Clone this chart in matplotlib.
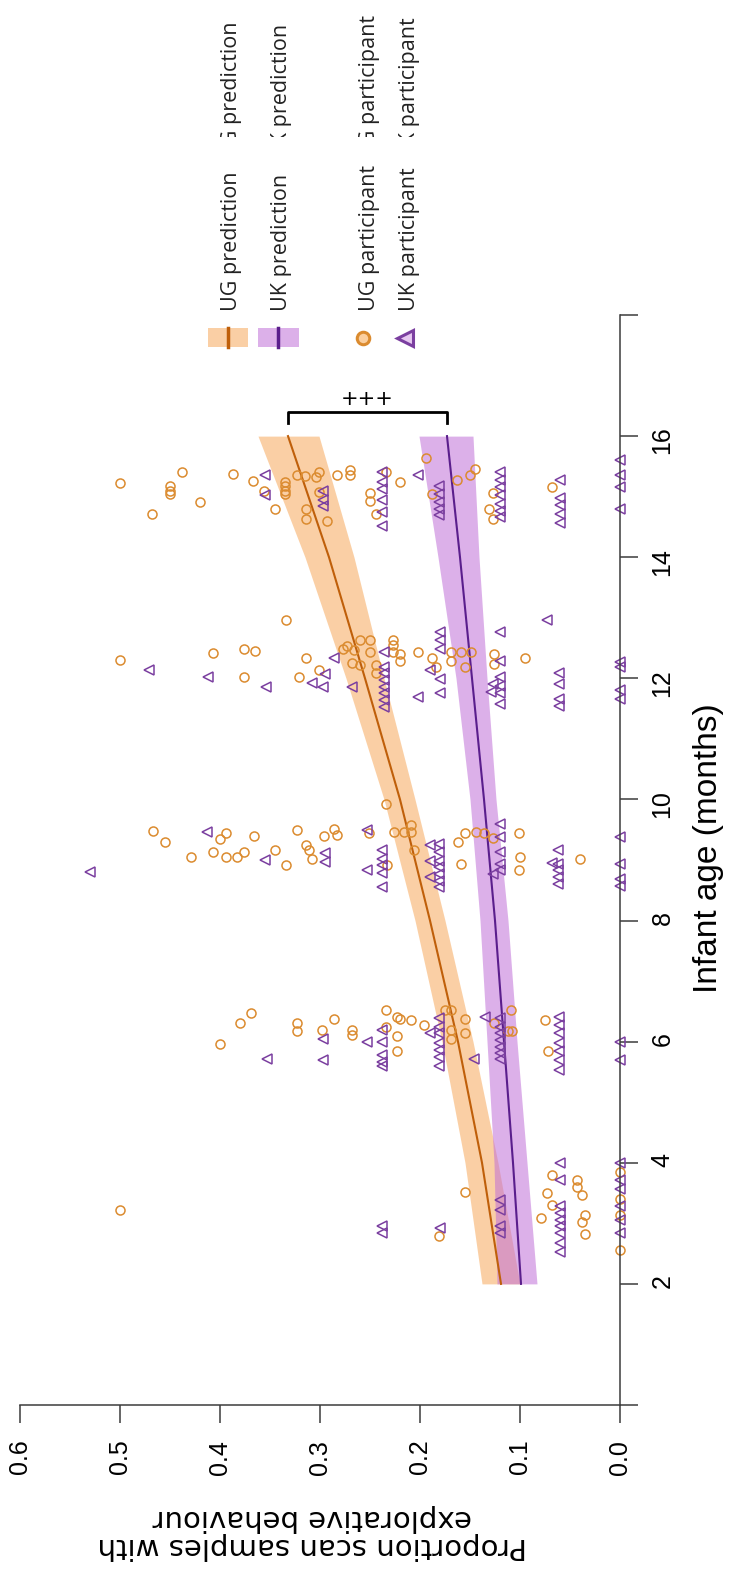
import numpy as np
import matplotlib
matplotlib.use("Agg")
import matplotlib.pyplot as plt
from matplotlib import font_manager
from matplotlib.patches import Rectangle
from matplotlib.lines import Line2D
from matplotlib.transforms import Bbox, TransformedBbox

# figure is drawn already turned a quarter turn: age runs up, proportion runs left
W, H = 731, 1569

# model predictions (age in months -> proportion)
pred_age = [2, 4, 6, 8, 10, 12, 14, 16]
ug_pred = [0.119, 0.138, 0.162, 0.190, 0.220, 0.255, 0.291, 0.332]
ug_lo = [0.100, 0.122, 0.147, 0.175, 0.205, 0.236, 0.266, 0.301]
ug_hi = [0.138, 0.155, 0.178, 0.205, 0.236, 0.274, 0.315, 0.362]
uk_pred = [0.099, 0.107, 0.116, 0.125, 0.136, 0.148, 0.160, 0.173]
uk_lo = [0.083, 0.093, 0.103, 0.112, 0.124, 0.133, 0.141, 0.147]
uk_hi = [0.123, 0.126, 0.133, 0.140, 0.150, 0.164, 0.182, 0.201]

# UG participants
ug_age = [15.23, 14.72, 15.18, 15.10, 15.05, 15.40, 14.91, 15.38, 15.26, 15.09, 14.80, 15.25,
          15.17, 15.10, 15.04, 15.35, 15.34, 14.80, 14.63, 15.32, 15.40, 15.08, 14.60, 15.35,
          15.44, 15.35, 15.06, 14.93, 14.72, 15.40, 15.24, 15.64, 15.04, 15.27, 15.35, 15.46,
          15.06, 14.80, 14.63, 15.16,
          12.31, 12.42, 12.48, 12.45, 12.02, 12.97, 12.33, 12.02, 12.13, 12.49, 12.54, 12.46,
          12.63, 12.63, 12.44, 12.26, 12.22, 12.22, 12.08, 12.64, 12.55, 12.44, 12.41, 12.29,
          12.44, 12.33, 12.19, 12.44, 12.29, 12.44, 12.44, 12.18, 12.41, 12.24, 12.34,
          9.48, 9.29, 9.05, 9.14, 9.34, 9.44, 9.05, 9.05, 9.14, 9.39, 9.17, 8.91, 9.49, 9.24,
          9.17, 9.02, 9.39, 9.52, 9.41, 9.44, 8.91, 9.92, 9.47, 9.47, 9.58, 9.47, 9.17, 9.29,
          9.44, 9.47, 9.45, 9.37, 8.94, 9.44, 9.05, 8.83, 9.02,
          6.48, 6.31, 5.96, 6.31, 6.18, 6.19, 6.37, 6.19, 6.11, 6.52, 6.40, 6.37, 6.24, 6.10,
          5.85, 6.35, 6.27, 6.52, 6.52, 6.20, 6.05, 6.37, 6.14, 6.31, 6.52, 6.18, 6.18, 6.35, 5.84,
          3.22, 3.51, 2.79, 3.80, 3.50, 3.30, 3.08, 3.72, 3.60, 3.47, 3.14, 3.03, 2.83, 2.56,
          3.85, 3.41, 3.14]
ug_prop = [0.500, 0.468, 0.450, 0.450, 0.450, 0.438, 0.420, 0.387, 0.367, 0.356, 0.345, 0.335,
           0.335, 0.335, 0.335, 0.323, 0.315, 0.314, 0.314, 0.304, 0.301, 0.301, 0.293, 0.283,
           0.270, 0.270, 0.250, 0.250, 0.244, 0.234, 0.220, 0.194, 0.188, 0.163, 0.150, 0.145,
           0.127, 0.131, 0.127, 0.068,
           0.500, 0.407, 0.376, 0.365, 0.376, 0.334, 0.314, 0.321, 0.301, 0.277, 0.273, 0.266,
           0.260, 0.250, 0.250, 0.268, 0.260, 0.244, 0.244, 0.227, 0.227, 0.227, 0.220, 0.220,
           0.202, 0.188, 0.184, 0.169, 0.169, 0.159, 0.149, 0.155, 0.126, 0.126, 0.095,
           0.467, 0.455, 0.429, 0.407, 0.400, 0.394, 0.394, 0.383, 0.376, 0.366, 0.345, 0.334,
           0.323, 0.314, 0.311, 0.308, 0.296, 0.286, 0.283, 0.251, 0.233, 0.234, 0.226, 0.216,
           0.209, 0.209, 0.206, 0.162, 0.155, 0.144, 0.136, 0.127, 0.159, 0.101, 0.100, 0.101, 0.040,
           0.369, 0.380, 0.400, 0.323, 0.323, 0.298, 0.286, 0.268, 0.268, 0.234, 0.223, 0.220,
           0.234, 0.223, 0.223, 0.209, 0.196, 0.175, 0.169, 0.169, 0.169, 0.155, 0.155, 0.126,
           0.109, 0.112, 0.108, 0.075, 0.072,
           0.500, 0.155, 0.181, 0.068, 0.073, 0.068, 0.079, 0.043, 0.043, 0.038, 0.035, 0.038,
           0.035, 0.0, 0.0, 0.0, 0.0]

# UK participants
uk_age = [15.35, 15.02, 15.10, 14.94, 14.84, 15.40, 15.24, 15.13, 14.94, 14.74, 14.51, 15.35,
          15.18, 15.05, 14.91, 14.80, 14.69, 15.40, 15.27, 15.16, 15.02, 14.88, 14.77, 14.66,
          15.28, 14.97, 14.86, 14.72, 14.57, 15.60, 15.35, 15.16, 14.79,
          12.13, 12.03, 11.86, 11.93, 11.85, 12.07, 12.33, 11.86, 12.44, 12.19, 12.08, 11.97,
          11.86, 11.75, 11.64, 11.53, 11.70, 12.13, 12.76, 12.63, 12.49, 11.99, 11.75, 12.76,
          12.29, 12.02, 11.88, 11.75, 11.58, 11.91, 11.77, 12.97, 12.08, 11.91, 11.66, 11.55,
          12.27, 12.19, 11.80, 11.66,
          8.80, 9.47, 9.00, 9.11, 8.97, 9.49, 8.83, 9.16, 9.02, 8.91, 8.78, 8.56, 9.24, 8.99,
          8.72, 9.27, 9.13, 8.99, 8.88, 8.77, 8.66, 8.56, 9.60, 9.38, 9.13, 8.94, 8.83, 8.77,
          9.16, 8.94, 8.95, 8.83, 8.72, 8.61, 9.38, 8.94, 8.69, 8.57,
          5.71, 6.05, 5.69, 6.00, 6.19, 6.00, 5.78, 5.67, 5.59, 6.14, 6.39, 6.25, 6.14, 5.98,
          5.86, 5.75, 5.59, 5.71, 6.41, 6.39, 6.25, 6.14, 6.03, 5.92, 5.81, 5.71, 6.41, 6.27,
          6.14, 5.98, 5.84, 5.70, 5.53, 6.00, 5.70,
          2.95, 2.84, 2.92, 3.39, 3.22, 2.95, 2.84, 4.00, 3.72, 3.28, 3.17, 3.06, 2.95, 2.84,
          2.67, 2.53, 3.99, 3.71, 3.56, 3.28, 3.06, 2.84]
uk_prop = [0.355, 0.355, 0.297, 0.297, 0.297, 0.238, 0.238, 0.238, 0.238, 0.238, 0.238, 0.202,
           0.181, 0.181, 0.181, 0.181, 0.181, 0.120, 0.120, 0.120, 0.120, 0.120, 0.120, 0.120,
           0.060, 0.060, 0.060, 0.060, 0.060, 0.0, 0.0, 0.0, 0.0,
           0.471, 0.412, 0.354, 0.308, 0.297, 0.295, 0.286, 0.268, 0.236, 0.236, 0.236, 0.236,
           0.236, 0.236, 0.236, 0.236, 0.202, 0.190, 0.180, 0.180, 0.180, 0.180, 0.180, 0.120,
           0.120, 0.120, 0.120, 0.120, 0.120, 0.127, 0.129, 0.073, 0.061, 0.061, 0.061, 0.061,
           0.0, 0.0, 0.0, 0.0,
           0.530, 0.413, 0.355, 0.295, 0.295, 0.253, 0.253, 0.238, 0.238, 0.238, 0.238, 0.238,
           0.190, 0.190, 0.190, 0.181, 0.181, 0.181, 0.181, 0.181, 0.181, 0.181, 0.120, 0.120,
           0.120, 0.120, 0.120, 0.127, 0.062, 0.062, 0.068, 0.062, 0.062, 0.062, 0.0, 0.0, 0.0, 0.0,
           0.353, 0.297, 0.297, 0.253, 0.238, 0.238, 0.238, 0.238, 0.238, 0.190, 0.181, 0.181,
           0.181, 0.181, 0.181, 0.181, 0.181, 0.146, 0.135, 0.120, 0.120, 0.120, 0.120, 0.120,
           0.120, 0.120, 0.061, 0.061, 0.061, 0.061, 0.061, 0.061, 0.061, 0.0, 0.0,
           0.238, 0.238, 0.180, 0.120, 0.120, 0.120, 0.120, 0.060, 0.060, 0.060, 0.060, 0.060,
           0.060, 0.060, 0.060, 0.060, 0.0, 0.0, 0.0, 0.0, 0.0, 0.0]

prop_ticks = [0.0, 0.1, 0.2, 0.3, 0.4, 0.5, 0.6]
age_ticks = [0, 2, 4, 6, 8, 10, 12, 14, 16, 18]
age_labels = ['', '2', '4', '6', '8', '10', '12', '14', '16', '']
legend_labels = ['UG prediction', 'UK prediction', 'UG participant', 'UK participant']
sig_label = '+++'

ug_band_c, ug_line_c, ug_pt_c = '#F7A95C', '#BF5F0A', '#DB8B2F'
uk_band_c, uk_line_c, uk_pt_c = '#C070D8', '#5A1E8C', '#7B3FA0'
axis_c = '#3c3c3c'

names = {f.name for f in font_manager.fontManager.ttflist}
narrow = 'Liberation Sans Narrow' if 'Liberation Sans Narrow' in names else 'Liberation Sans'
tick_size = 21 if narrow == 'Liberation Sans Narrow' else 18


def px(x, y):
    return x / W, 1 - y / H


fig = plt.figure(figsize=(W / 100, H / 100), dpi=100)
ax = fig.add_axes([20 / W, 164 / H, 600 / W, 1090 / H])

ax.fill_betweenx(pred_age, ug_lo, ug_hi, color=ug_band_c, alpha=0.55, lw=0)
ax.fill_betweenx(pred_age, uk_lo, uk_hi, color=uk_band_c, alpha=0.55, lw=0)
ax.plot(ug_pred, pred_age, color=ug_line_c, lw=1.5)
ax.plot(uk_pred, pred_age, color=uk_line_c, lw=1.5)

ax.plot(ug_prop, ug_age, ls='none', marker='o', ms=6.5, mfc='none', mec=ug_pt_c, mew=1.1,
        clip_on=False)
ax.plot(uk_prop, uk_age, ls='none', marker='<', ms=7, mfc='none', mec=uk_pt_c, mew=1.1,
        clip_on=False)

# significance bracket between the two predictions at the oldest age
b_age, b_tick = 16.40, 16.22
ax.plot([ug_pred[-1], ug_pred[-1], uk_pred[-1], uk_pred[-1]], [b_tick, b_age, b_age, b_tick],
        color='black', lw=2, clip_on=False)
ax.text((ug_pred[-1] + uk_pred[-1]) / 2, 16.62, sig_label, ha='center', va='center',
        fontsize=15, family='DejaVu Sans')

ax.set_xlim(0.6, 0.0)
ax.set_ylim(0, 18)
for s in ['left', 'top']:
    ax.spines[s].set_visible(False)
for s in ['right', 'bottom']:
    ax.spines[s].set_color(axis_c)
    ax.spines[s].set_linewidth(1.1)

ax.set_xticks(prop_ticks)
ax.set_xticklabels([f'{v:.1f}' for v in prop_ticks], family=narrow)
ax.tick_params(axis='x', direction='out', length=13, width=1.1, color=axis_c, pad=12,
               labelrotation=90, labelsize=tick_size)
ax.yaxis.tick_right()
ax.set_yticks(age_ticks)
ax.set_yticklabels(age_labels, family=narrow)
ax.tick_params(axis='y', direction='out', length=13, width=1.1, color=axis_c, pad=9,
               labelrotation=90, labelsize=tick_size)

fig.text(*px(709, 848), 'Infant age (months)', rotation=90, ha='center', va='center',
         fontsize=24, family=narrow)
fig.text(*px(312, 1532), 'Proportion scan samples with\nexplorative behaviour', rotation=180,
         ha='center', va='center', multialignment='center', fontsize=21,
         family='DejaVu Sans', linespacing=1.0)

# legend, drawn by hand
for (x0, x1, xl), band, line in [((208, 248, 228), ug_band_c, ug_line_c),
                                  ((258, 299, 278), uk_band_c, uk_line_c)]:
    fx0, fy0 = px(x0, 347)
    fx1, fy1 = px(x1, 328)
    fig.patches.append(Rectangle((fx0, fy0), fx1 - fx0, fy1 - fy0, transform=fig.transFigure,
                                 facecolor=band, alpha=0.55, lw=0))
    lx, ly0 = px(xl, 347)
    _, ly1 = px(xl, 328)
    fig.lines.append(Line2D([lx, lx], [ly0, ly1], transform=fig.transFigure, color=line, lw=2.5))

cx, cy = px(363, 338)
fig.lines.append(Line2D([cx], [cy], transform=fig.transFigure, marker='o', ms=9, mfc='#FBCF9F',
                        mec=ug_pt_c, mew=2.2, ls='none'))
tx, ty = px(405, 338)
fig.lines.append(Line2D([tx], [ty], transform=fig.transFigure, marker='<', ms=11, mfc='#E6C8F0',
                        mec=uk_pt_c, mew=2.2, ls='none'))

clip = TransformedBbox(Bbox([[0, 1 - 137 / H], [1, 1]]), fig.transFigure)
for xc, lab in zip([232, 282, 369, 409], legend_labels):
    fig.text(*px(xc, 311), lab, rotation=90, rotation_mode='anchor', ha='left', va='center',
             fontsize=15.5, family='Open Sans', color='#222222')
    dup = fig.text(*px(xc, 161), lab, rotation=90, rotation_mode='anchor', ha='left',
                   va='center', fontsize=15.5, family='Open Sans', color='#222222')
    dup.set_clip_box(clip)
    dup.set_clip_on(True)

fig.savefig('out.png', dpi=100)
